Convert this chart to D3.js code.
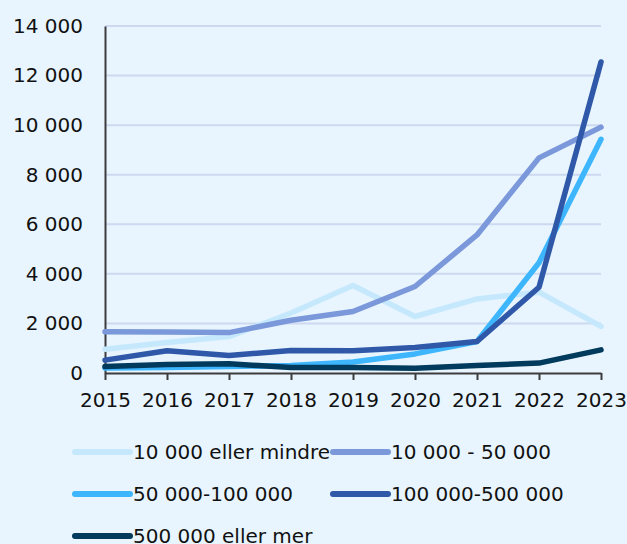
<!DOCTYPE html>
<html>
<head>
<meta charset="utf-8">
<script src="https://cdn.jsdelivr.net/npm/d3@7"></script>
<style>
  html, body { margin: 0; padding: 0; background: #e8f5fe; }
  svg { display: block; }
  text { font-family: "DejaVu Sans", sans-serif; fill: #111; }
</style>
</head>
<body>
<svg id="chart" width="627" height="544"></svg>
<script>
// Years on the x axis
const years = [2015, 2016, 2017, 2018, 2019, 2020, 2021, 2022, 2023];

// One array per size group
const under10k   = [960, 1230, 1470, 2420, 3530, 2280, 2990, 3260, 1880];
const from10to50k = [1660, 1650, 1630, 2130, 2480, 3490, 5570, 8680, 9920];
const from50to100k = [200, 220, 260, 300, 440, 770, 1270, 4450, 9430];
const from100to500k = [520, 900, 710, 910, 895, 1030, 1270, 3460, 12550];
const over500k   = [260, 345, 370, 225, 225, 195, 300, 400, 935];

const seriesNames = [
  "10 000 eller mindre",
  "10 000 - 50 000",
  "50 000-100 000",
  "100 000-500 000",
  "500 000 eller mer"
];
const seriesValues = [under10k, from10to50k, from50to100k, from100to500k, over500k];
const seriesColors = ["#c6e8fd", "#7b98da", "#3db6fe", "#2f58a8", "#003a5d"];

const yTicks = [0, 2000, 4000, 6000, 8000, 10000, 12000, 14000];

const svg = d3.select("#chart");
const margin = { left: 105, right: 26, top: 26, bottom: 171 };
const W = 627, H = 544;

const x = d3.scaleLinear()
  .domain([years[0], years[years.length - 1]])
  .range([margin.left, W - margin.right]);
const y = d3.scaleLinear()
  .domain([0, 14000])
  .range([H - margin.bottom, margin.top]);

const fmt = v => d3.format(",")(v).replace(/,/g, " ");

// Horizontal gridlines
svg.append("g")
  .selectAll("line")
  .data(yTicks.filter(t => t > 0))
  .join("line")
  .attr("x1", x.range()[0])
  .attr("x2", x.range()[1])
  .attr("y1", d => y(d))
  .attr("y2", d => y(d))
  .attr("stroke", "#cdd9f0")
  .attr("stroke-width", 2);

// Y axis: line and labels, no tick marks
const yAxis = svg.append("g")
  .attr("transform", `translate(${margin.left},0)`)
  .call(d3.axisLeft(y).tickValues(yTicks).tickFormat(fmt).tickSize(0).tickPadding(22));
yAxis.select(".domain").attr("stroke", "#3c3c3c").attr("stroke-width", 2);
yAxis.selectAll("text")
  .style("font-family", '"DejaVu Sans", sans-serif')
  .style("font-size", "20px")
  .attr("fill", "#111");

// Series lines
const line = d3.line()
  .x((d, i) => x(years[i]))
  .y(d => y(d));

svg.append("g")
  .selectAll("path")
  .data(seriesValues)
  .join("path")
  .attr("d", d => line(d))
  .attr("fill", "none")
  .attr("stroke", (d, i) => seriesColors[i])
  .attr("stroke-width", 5.5)
  .attr("stroke-linejoin", "round")
  .attr("stroke-linecap", "round");

// X axis on top of the lines
const xAxis = svg.append("g")
  .attr("transform", `translate(0,${y(0)})`)
  .call(d3.axisBottom(x).tickValues(years).tickFormat(d3.format("d")).tickSize(7).tickSizeOuter(0).tickPadding(13));
xAxis.select(".domain").attr("stroke", "#3c3c3c").attr("stroke-width", 2);
xAxis.selectAll(".tick line").attr("stroke", "#3c3c3c").attr("stroke-width", 2);
xAxis.selectAll("text")
  .style("font-family", '"DejaVu Sans", sans-serif')
  .style("font-size", "20px")
  .attr("fill", "#111");

// Legend in two columns
const legendX = [75, 333];
const legendY = [452, 494, 536];
const legend = svg.append("g")
  .selectAll("g")
  .data(seriesNames)
  .join("g")
  .attr("transform", (d, i) => `translate(${legendX[i % 2]},${legendY[Math.floor(i / 2)]})`);
legend.append("line")
  .attr("x1", 0).attr("x2", 55)
  .attr("y1", 0).attr("y2", 0)
  .attr("stroke", (d, i) => seriesColors[i])
  .attr("stroke-width", 6)
  .attr("stroke-linecap", "round");
legend.append("text")
  .attr("x", 58)
  .attr("y", 0)
  .attr("dy", "0.36em")
  .style("font-size", "20px")
  .text(d => d);
</script>
</body>
</html>
